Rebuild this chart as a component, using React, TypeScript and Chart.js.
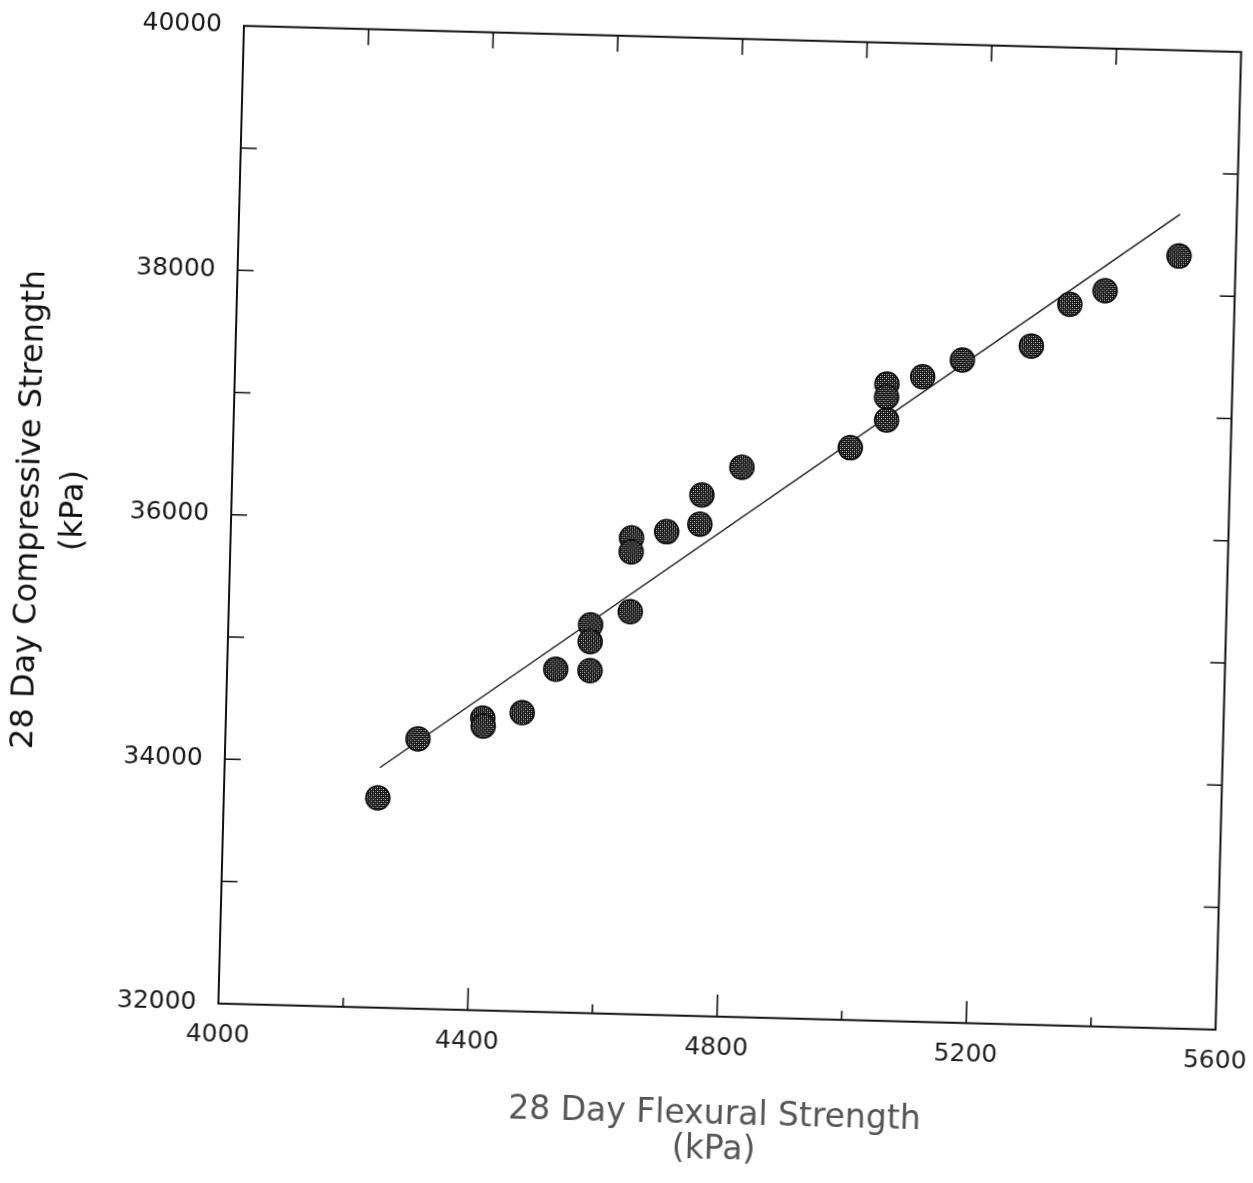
import React, { useEffect, useRef } from "react";
import { Chart, registerables } from "chart.js";

Chart.register(...registerables);

// 28 day flexural strength (kPa) of each specimen
const flexuralStrength = [
  4247, 4309, 4412, 4413, 4475, 4527, 4582, 4581, 4581, 4644, 4643, 4643, 4699,
  4752, 4754, 4817, 4990, 5047, 5046, 5046, 5103, 5166, 5276, 5336, 5392, 5509,
];
// 28 day compressive strength (kPa) of each specimen
const compressiveStrength = [
  33715, 34206, 34391, 34326, 34443, 34805, 34801, 35175, 35038, 35292, 35895,
  35781, 35954, 36022, 36262, 36497, 36680, 36915, 37209, 37103, 37276, 37422,
  37551, 37900, 38019, 38318,
];
// fitted regression line end points
const fitLineFlexural = [4249, 5509];
const fitLineCompressive = [33963, 38660];

// axis tick values
const xTickValues = [4000, 4200, 4400, 4600, 4800, 5000, 5200, 5400, 5600];
const xLabelValues = [4000, 4400, 4800, 5200, 5600];
const yTickValues = [32000, 33000, 34000, 35000, 36000, 37000, 38000, 39000, 40000];
const yLabelValues = [32000, 34000, 36000, 38000, 40000];

const xTitle = ["28 Day Flexural Strength", "(kPa)"];
const yTitle = ["28 Day Compressive Strength", "(kPa)"];

const FONT = "'DejaVu Sans', 'Liberation Sans', Arial, sans-serif";
const CANVAS_W = 1320;
const CANVAS_H = 1183;

function makePattern(ctx: CanvasRenderingContext2D): CanvasPattern | string {
  const c = document.createElement("canvas");
  c.width = 4;
  c.height = 4;
  const g = c.getContext("2d");
  if (!g) return "#333";
  g.fillStyle = "#141414";
  g.fillRect(0, 0, 4, 4);
  g.fillStyle = "#d8d8d8";
  g.fillRect(0, 0, 1, 1);
  g.fillRect(2, 2, 1, 1);
  g.fillStyle = "#7a7a7a";
  g.fillRect(2, 0, 1, 1);
  g.fillRect(0, 2, 1, 1);
  return ctx.createPattern(c, "repeat") || "#333";
}

const frameTicksPlugin = {
  id: "frameTicks",
  afterDatasetsDraw(chart: any) {
    const { ctx, chartArea: a, scales } = chart;
    const x = scales.x;
    const y = scales.y;
    ctx.save();
    ctx.strokeStyle = "#111";
    ctx.lineWidth = 2;
    ctx.strokeRect(a.left, a.top, a.right - a.left, a.bottom - a.top);
    ctx.lineWidth = 1.6;
    ctx.beginPath();
    for (const v of xTickValues) {
      if (v === xTickValues[0] || v === xTickValues[xTickValues.length - 1]) continue;
      const px = x.getPixelForValue(v);
      const major = xLabelValues.includes(v);
      ctx.moveTo(px, a.bottom);
      ctx.lineTo(px, a.bottom - (major ? 22 : 9));
      ctx.moveTo(px, a.top);
      ctx.lineTo(px, a.top + 16);
    }
    for (const v of yTickValues) {
      if (v === yTickValues[0] || v === yTickValues[yTickValues.length - 1]) continue;
      const py = y.getPixelForValue(v);
      ctx.moveTo(a.left, py);
      ctx.lineTo(a.left + 16, py);
      ctx.moveTo(a.right, py);
      ctx.lineTo(a.right - 15, py);
    }
    ctx.stroke();
    ctx.restore();
  },
};

export default function App() {
  const canvasRef = useRef<HTMLCanvasElement | null>(null);

  useEffect(() => {
    const canvas = canvasRef.current;
    if (!canvas) return;
    const ctx = canvas.getContext("2d");
    if (!ctx) return;
    const pattern = makePattern(ctx);

    const points = flexuralStrength.map((v, i) => ({ x: v, y: compressiveStrength[i] }));
    const fit = fitLineFlexural.map((v, i) => ({ x: v, y: fitLineCompressive[i] }));

    const chart = new Chart(ctx, {
      type: "scatter",
      data: {
        datasets: [
          {
            type: "scatter",
            data: points,
            pointRadius: 12,
            pointHoverRadius: 12,
            pointBackgroundColor: pattern as any,
            pointBorderColor: "#0a0a0a",
            pointBorderWidth: 1.5,
            order: 1,
          } as any,
          {
            type: "line",
            data: fit,
            borderColor: "#1c1c1c",
            borderWidth: 1.4,
            pointRadius: 0,
            fill: false,
            order: 2,
          } as any,
        ],
      },
      options: {
        responsive: false,
        animation: false,
        layout: { padding: { left: 0, right: CANVAS_W - 1228.5, top: 38.75, bottom: 0 } },
        plugins: { legend: { display: false }, tooltip: { enabled: false } },
        scales: {
          x: {
            type: "linear",
            min: 4000,
            max: 5600,
            grid: { display: false, drawTicks: false },
            border: { display: false },
            ticks: {
              stepSize: 400,
              autoSkip: false,
              maxRotation: 0,
              padding: 17,
              color: "#222",
              font: { family: FONT, size: 25 },
              callback: (v: any) => (xLabelValues.includes(Number(v)) ? String(v) : ""),
            },
            title: {
              display: true,
              text: xTitle,
              color: "#555",
              font: { family: FONT, size: 33, lineHeight: 1.06 },
              padding: { top: 0, bottom: 15 },
            },
            afterFit: (scale: any) => {
              scale.height = 166.25;
              scale.paddingLeft = 0;
              scale.paddingRight = 0;
            },
          },
          y: {
            type: "linear",
            min: 32000,
            max: 40000,
            grid: { display: false, drawTicks: false },
            border: { display: false },
            ticks: {
              stepSize: 2000,
              autoSkip: false,
              padding: 22,
              color: "#1a1a1a",
              font: { family: FONT, size: 25 },
              callback: (v: any) => (yLabelValues.includes(Number(v)) ? String(v) : ""),
            },
            title: {
              display: true,
              text: yTitle,
              color: "#111",
              font: { family: FONT, size: 32, lineHeight: 1.375 },
              padding: { top: 8, bottom: 0 },
            },
            afterFit: (scale: any) => {
              scale.width = 231;
              scale.paddingTop = 0;
              scale.paddingBottom = 0;
            },
          },
        },
      },
      plugins: [frameTicksPlugin],
    });

    return () => chart.destroy();
  }, []);

  return (
    <div
      style={{
        position: "fixed",
        left: 0,
        top: 0,
        width: 1253,
        height: 1183,
        overflow: "hidden",
        background: "#fff",
      }}
    >
      <div
        style={{
          position: "absolute",
          left: 0,
          top: 0,
          width: CANVAS_W,
          height: CANVAS_H,
          transform: "rotate(1.5deg)",
          transformOrigin: "729.75px 527.75px",
        }}
      >
        <canvas ref={canvasRef} width={CANVAS_W} height={CANVAS_H} style={{ display: "block" }} />
      </div>
    </div>
  );
}
